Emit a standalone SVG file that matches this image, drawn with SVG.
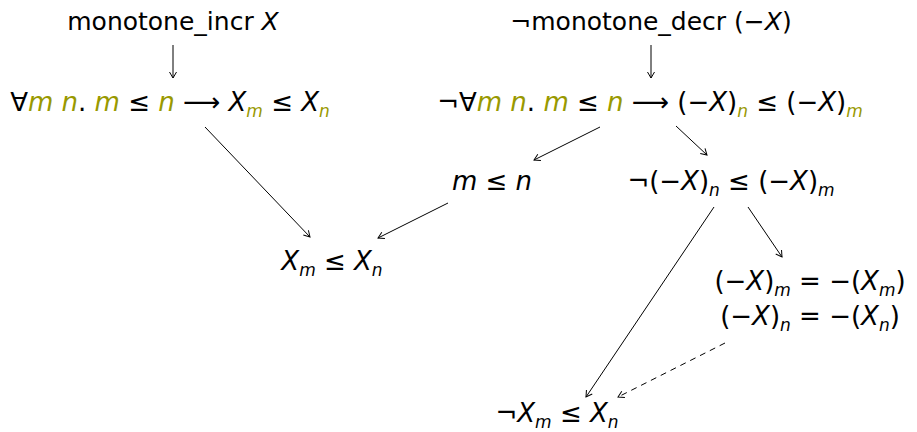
<svg xmlns="http://www.w3.org/2000/svg" width="917" height="432" viewBox="0 0 917 432">
<style>
text{font-family:"DejaVu Sans","Open Sans",sans-serif;font-size:26px;fill:#000;text-anchor:middle}
.t{font-size:25px}
.i{font-style:italic}
.o{fill:#999900}
.s{font-size:17px}
.c{stroke:#000;stroke-width:1;fill:none}
.d{stroke-dasharray:6,5}
</style>
<defs>
<marker id="ah" viewBox="-8 -5 10 10" markerWidth="10" markerHeight="10" refX="0" refY="0" orient="auto" markerUnits="userSpaceOnUse">
<path d="M-6,-3.5 L0,0 L-6,3.5" fill="none" stroke="#000" stroke-width="1"/>
</marker>
</defs>
<g id="connectors">
<line class="c" x1="173" y1="45" x2="173" y2="78" marker-end="url(#ah)"/>
<line class="c" x1="651" y1="45" x2="651" y2="78" marker-end="url(#ah)"/>
<line class="c" x1="600" y1="127" x2="534" y2="160" marker-end="url(#ah)"/>
<line class="c" x1="676" y1="126" x2="707" y2="155" marker-end="url(#ah)"/>
<line class="c" x1="205" y1="127" x2="310" y2="237" marker-end="url(#ah)"/>
<line class="c" x1="448" y1="203" x2="378" y2="238" marker-end="url(#ah)"/>
<line class="c" x1="714" y1="207" x2="586" y2="397" marker-end="url(#ah)"/>
<line class="c" x1="748" y1="207" x2="782" y2="257" marker-end="url(#ah)"/>
<line class="c d" x1="725" y1="343" x2="618" y2="397" marker-end="url(#ah)"/>
</g>
<g id="n1"><text class="t" x="173" y="30">monotone_incr <tspan class="i">X</tspan></text></g>
<g id="n2"><text x="170" y="111">∀<tspan class="i o">m n</tspan>. <tspan class="i o">m</tspan> ≤ <tspan class="i o">n</tspan> ⟶ <tspan class="i">X</tspan><tspan class="i o s" dy="6">m</tspan><tspan dy="-6"> ≤ </tspan><tspan class="i">X</tspan><tspan class="i o s" dy="6">n</tspan></text></g>
<g id="n3"><text class="t" x="651" y="30">¬monotone_decr (−<tspan class="i">X</tspan>)</text></g>
<g id="n4"><text x="650" y="111">¬∀<tspan class="i o">m n</tspan>. <tspan class="i o">m</tspan> ≤ <tspan class="i o">n</tspan> ⟶ (−<tspan class="i">X</tspan>)<tspan class="i o s" dy="6">n</tspan><tspan dy="-6"> ≤ (−</tspan><tspan class="i">X</tspan>)<tspan class="i o s" dy="6">m</tspan></text></g>
<g id="n5"><text x="492" y="190"><tspan class="i">m</tspan> ≤ <tspan class="i">n</tspan></text></g>
<g id="n6"><text x="731" y="190">¬(−<tspan class="i">X</tspan>)<tspan class="i s" dy="6">n</tspan><tspan dy="-6"> ≤ (−</tspan><tspan class="i">X</tspan>)<tspan class="i s" dy="6">m</tspan></text></g>
<g id="n7"><text x="332" y="270"><tspan class="i">X</tspan><tspan class="i s" dy="6">m</tspan><tspan dy="-6"> ≤ </tspan><tspan class="i">X</tspan><tspan class="i s" dy="6">n</tspan></text></g>
<g id="n8">
<text x="810" y="290">(−<tspan class="i">X</tspan>)<tspan class="i s" dy="6">m</tspan><tspan dy="-6"> = −(</tspan><tspan class="i">X</tspan><tspan class="i s" dy="6">m</tspan><tspan dy="-6">)</tspan></text>
<text x="810" y="325">(−<tspan class="i">X</tspan>)<tspan class="i s" dy="6">n</tspan><tspan dy="-6"> = −(</tspan><tspan class="i">X</tspan><tspan class="i s" dy="6">n</tspan><tspan dy="-6">)</tspan></text>
</g>
<g id="n9"><text x="557" y="422">¬<tspan class="i">X</tspan><tspan class="i s" dy="6">m</tspan><tspan dy="-6"> ≤ </tspan><tspan class="i">X</tspan><tspan class="i s" dy="6">n</tspan></text></g>
</svg>
